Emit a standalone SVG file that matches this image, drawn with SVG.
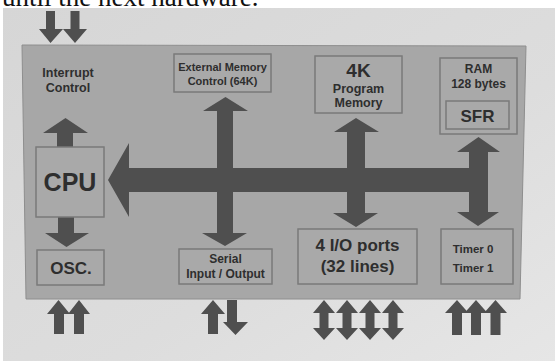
<svg xmlns="http://www.w3.org/2000/svg" width="555" height="361" viewBox="0 0 555 361">
  <defs>
    <linearGradient id="bg" x1="0" y1="0" x2="1" y2="1">
      <stop offset="0" stop-color="#d6d6d6"/>
      <stop offset="0.6" stop-color="#dddddd"/>
      <stop offset="1" stop-color="#e6e6e6"/>
    </linearGradient>
    <style>
      .box { fill: #a9a9a9; stroke: #7a7a7a; stroke-width: 1.5; }
      .t { font-family: "Liberation Sans", Arial, sans-serif; font-weight: bold; fill: #2e2e2e; text-anchor: middle; }
      .arr { fill: #4f4f4f; }
    </style>
  </defs>

  <!-- paper / photo background -->
  <rect x="0" y="0" width="555" height="361" fill="#ffffff"/>
  <rect x="3" y="8" width="552" height="353" fill="url(#bg)"/>
  <text x="2" y="6" font-family="'Liberation Serif', 'Times New Roman', serif" font-size="27" fill="#111">until the next hardware.</text>

  <!-- main panel -->
  <polygon points="22,45 526,46 520,299 26,299" fill="#a7a7a7" stroke="#8e8e8e" stroke-width="1"/>

  <!-- connectors -->
  <g id="connectors" class="arr">
    <!-- top interrupt inputs -->
    <polygon points="46,11 55,11 55,29 63,29 50.5,43 39,29 46,29"/>
    <polygon points="70.5,11 79.5,11 79.5,29 87,29 75,43 63,29 70.5,29"/>
    <!-- CPU up to interrupt control -->
    <polygon points="57,147 73,147 73,133 88,133 65.5,118 43,133 57,133"/>
    <!-- CPU down to OSC -->
    <polygon points="58,217 74,217 74,233 89,233 66.5,247 45,233 58,233"/>
    <!-- main bus (horizontal) -->
    <polygon points="108,180 129,143 129,168 478,168 478,192 129,192 129,217"/>
    <!-- external memory / serial vertical -->
    <polygon points="225.5,97 248,111 233,111 233,233 247,233 225,246 202,233 217,233 217,111 203,111"/>
    <!-- program memory / IO ports vertical -->
    <polygon points="356,118 379,132 365,132 365,213 378,213 356,227 333,213 347,213 347,132 334,132"/>
    <!-- RAM / timers vertical -->
    <polygon points="478.5,137 500,152 488,152 488,212 499,212 478,226 457,212 469,212 469,152 457,152"/>

    <!-- bottom: OSC inputs -->
    <polygon points="54,334 64,334 64,314 70,314 58.5,300 47,314 54,314"/>
    <polygon points="74,334 84,334 84,314 90,314 79,300 68,314 74,314"/>
    <!-- bottom: serial in / out -->
    <polygon points="208,334 218,334 218,314 225,314 213,300 201,314 208,314"/>
    <polygon points="227,300 237,300 237,322 248,322 235.5,335 223,322 227,322"/>
    <!-- bottom: 4 IO ports -->
    <polygon points="324,300 335,313 328.5,313 328.5,328 335,328 324,340 313,328 319.5,328 319.5,313 313,313"/>
    <polygon points="347,300 358,313 351.5,313 351.5,328 358,328 347,340 336,328 342.5,328 342.5,313 336,313"/>
    <polygon points="370,300 381,313 374.5,313 374.5,328 381,328 370,340 359,328 365.5,328 365.5,313 359,313"/>
    <polygon points="393,300 404,313 397.5,313 397.5,328 404,328 393,340 382,328 388.5,328 388.5,313 382,313"/>
    <!-- bottom: timer inputs -->
    <polygon points="452,335 462,335 462,313 468.5,313 457,300 445,313 452,313"/>
    <polygon points="471,335 481,335 481,313 487.5,313 476,300 464.5,313 471,313"/>
    <polygon points="490.5,335 500.5,335 500.5,313 507,313 495.5,300 484,313 490.5,313"/>
  </g>

  <!-- nodes -->
  <g id="interrupt">
    <text class="t" x="68" y="77" font-size="12.5">Interrupt</text>
    <text class="t" x="68" y="92" font-size="12.5">Control</text>
  </g>

  <g id="extmem">
    <rect class="box" x="174" y="54" width="97" height="38"/>
    <text class="t" x="222.5" y="70.5" font-size="11">External Memory</text>
    <text class="t" x="222.5" y="85" font-size="11">Control (64K)</text>
  </g>

  <g id="progmem">
    <rect class="box" x="315" y="56" width="87" height="57"/>
    <text class="t" x="358.5" y="77" font-size="19">4K</text>
    <text class="t" x="358.5" y="93" font-size="12.5">Program</text>
    <text class="t" x="358.5" y="107" font-size="12.5">Memory</text>
  </g>

  <g id="ram">
    <rect class="box" x="440" y="58" width="77" height="76"/>
    <text class="t" x="478.5" y="73" font-size="12">RAM</text>
    <text class="t" x="478.5" y="88" font-size="12">128 bytes</text>
    <g id="sfr">
      <rect class="box" x="446" y="101" width="63" height="28"/>
      <text class="t" x="477.5" y="122" font-size="17">SFR</text>
    </g>
  </g>

  <g id="cpu">
    <rect class="box" x="36" y="147" width="68" height="70"/>
    <text class="t" x="70" y="191" font-size="25">CPU</text>
  </g>

  <g id="osc">
    <rect class="box" x="37" y="250" width="67" height="35"/>
    <text class="t" x="71" y="274" font-size="17">OSC.</text>
  </g>

  <g id="serial">
    <rect class="box" x="179" y="249" width="93" height="35"/>
    <text class="t" x="225.5" y="263" font-size="12">Serial</text>
    <text class="t" x="225.5" y="278" font-size="12">Input / Output</text>
  </g>

  <g id="ioports">
    <rect class="box" x="298" y="229" width="119" height="55"/>
    <text class="t" x="357.5" y="251" font-size="17">4 I/O ports</text>
    <text class="t" x="357.5" y="272" font-size="17">(32 lines)</text>
  </g>

  <g id="timers">
    <rect class="box" x="441" y="229" width="72" height="55"/>
    <text class="t" x="473" y="253" font-size="11.5">Timer 0</text>
    <text class="t" x="473" y="272" font-size="11.5">Timer 1</text>
  </g>
</svg>
